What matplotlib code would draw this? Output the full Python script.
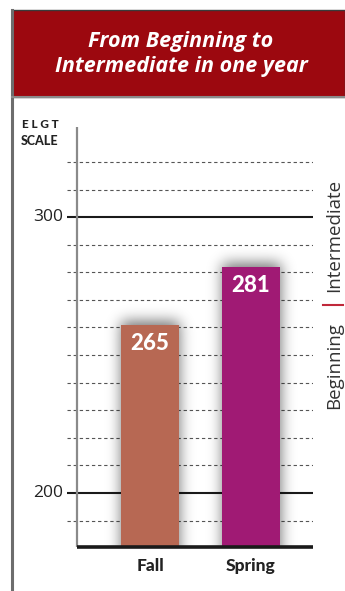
import matplotlib
matplotlib.use("Agg")
import matplotlib.pyplot as plt
import numpy as np
from matplotlib.patches import Rectangle

# data
seasons = ["Fall", "Spring"]
bar_heights = [261, 282]
bar_labels = ["265", "281"]
bar_colors = ["#B76853", "#A01A74"]
grid_levels = list(range(190, 321, 10))
tick_values = [200, 300]

W, H = 345, 591
fig = plt.figure(figsize=(W / 100, H / 100), dpi=100)

def fx(px):
    return px / W

def fy(py):
    return 1 - py / H

narrow = "Lato"

# frame + title box
fig.add_artist(plt.Line2D([fx(12), fx(12)], [fy(10), 0], color="#6d6d6d", lw=2.2))
fig.add_artist(Rectangle((fx(12), fy(97)), 1 - fx(12), fy(10) - fy(97),
                         facecolor="#9C080F", edgecolor="#3a3a3a", lw=1.0))
fig.add_artist(plt.Line2D([fx(12), 1], [fy(97), fy(97)], color="#8a8a8a", lw=1.5))
fig.text(fx(181), fy(54), "From Beginning to\nIntermediate in one year",
         ha="center", va="center", color="white", fontsize=15.5,
         fontweight="bold", fontstyle="italic", family="Open Sans",
         linespacing=1.2)

# axes: x in category units, y in scale units
y0, y1 = 180.4, 332.7
xl0, xl1 = -0.822, 1.614
ax = fig.add_axes([fx(67), fy(547), fx(313) - fx(67), fy(127) - fy(547)])
ax.set_xlim(xl0, xl1)
ax.set_ylim(y0, y1)
for s in ax.spines.values():
    s.set_visible(False)
ax.set_xticks([])
ax.set_yticks([])
ax.patch.set_alpha(0)

for lv in grid_levels:
    if lv in tick_values:
        ax.axhline(lv, color="#1a1a1a", lw=1.5, zorder=1)
    else:
        ax.axhline(lv, color="#555555", lw=0.8, ls=(0, (3, 2.5)), zorder=1)

ax.axvline(-0.723, ymin=0, ymax=1, color="#8a8a8a", lw=1.6, zorder=2)
ax.plot([-0.723, xl1], [y0, y0], color="#1a1a1a", lw=2.6,
        clip_on=False, zorder=5, solid_capstyle="butt")

width = 0.574
xs = list(range(len(seasons)))

# soft drop shadow: blurred mask of the bars
nx, ny = 246, 420
gx = np.linspace(xl0, xl1, nx)
gy = np.linspace(y1, y0, ny)
XX, YY = np.meshgrid(gx, gy)
mask = np.zeros((ny, nx))
for x, h in zip(xs, bar_heights):
    mask[(np.abs(XX - x) < width / 2) & (YY < h + 1.5)] = 1.0
sig = 7.0
k = np.arange(-25, 26)
kern = np.exp(-k ** 2 / (2 * sig ** 2))
kern /= kern.sum()
pad = np.pad(mask, 25, mode="edge")
blur = np.apply_along_axis(lambda r: np.convolve(r, kern, mode="same"), 1, pad)
blur = np.apply_along_axis(lambda c: np.convolve(c, kern, mode="same"), 0, blur)
blur = blur[25:-25, 25:-25]
rgba = np.zeros((ny, nx, 4))
rgba[..., 3] = 0.55 * blur
ax.imshow(rgba, extent=[xl0, xl1, y0, y1], aspect="auto", zorder=2,
          interpolation="bilinear")

ax.bar(xs, [h - y0 for h in bar_heights], bottom=y0, width=width,
       color=bar_colors, zorder=3, linewidth=0)

for x, h, lab in zip(xs, bar_heights, bar_labels):
    ax.text(x, h - 6.8, lab, ha="center", va="center", color="white",
            fontsize=16, fontweight="black", family=narrow, zorder=6)

for x, name in zip(xs, seasons):
    ax.text(x, y0 - 7.0, name, ha="center", va="center", color="#222222",
            fontsize=12.5, fontweight="black", family=narrow,
            clip_on=False)

for v in tick_values:
    ax.text(-0.86, v, str(v), ha="right", va="center", color="#222222",
            fontsize=12.5, family="Open Sans", clip_on=False)

fig.text(fx(40), fy(125), "E L G T", ha="center", va="center", fontsize=8.5,
         fontweight="black", color="#222222", family=narrow)
fig.text(fx(40), fy(141), "SCALE", ha="center", va="center", fontsize=9,
         fontweight="black", color="#222222", family=narrow)

# right-side level labels
fig.text(fx(334), fy(235), "Intermediate", rotation=90, ha="center",
         va="center", fontsize=13.5, color="#333333", family="Open Sans")
fig.add_artist(plt.Line2D([fx(323), fx(343)], [fy(305), fy(305)],
                          color="#C0283A", lw=1.5))
fig.text(fx(334), fy(366), "Beginning", rotation=90, ha="center",
         va="center", fontsize=13.5, color="#333333", family="Open Sans")

fig.savefig("out.png", dpi=100)
